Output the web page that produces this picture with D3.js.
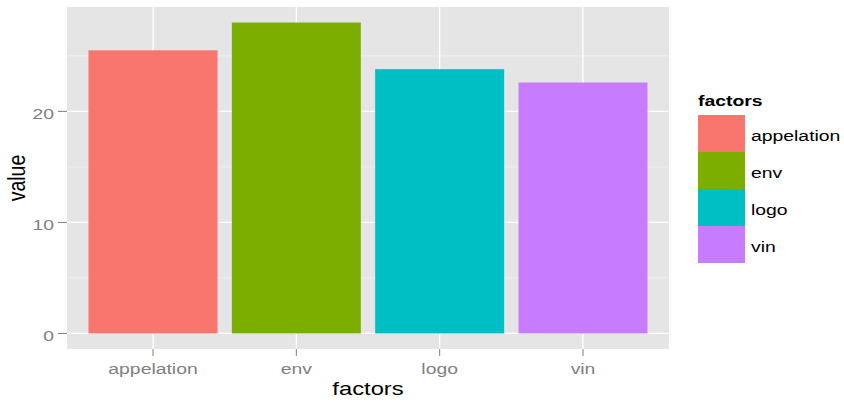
<!DOCTYPE html>
<html>
<head>
<meta charset="utf-8">
<script src="https://cdn.jsdelivr.net/npm/d3@7"></script>
<style>
  html, body { margin: 0; padding: 0; background: #fff; }
  svg { display: block; font-family: "Liberation Sans", Arial, sans-serif; }
</style>
</head>
<body>
<svg id="chart" width="844" height="408"></svg>
<script>
// ---- data ----
const categories = ["appelation", "env", "logo", "vin"];
const values = [25.5, 28.0, 23.8, 22.6];
const colors = ["#F8766D", "#7CAE00", "#00BFC4", "#C77CFF"];
const yTicks = [0, 10, 20];
const yMinor = [5, 15, 25];
const xTitle = "factors";
const yTitle = "value";
const legendTitle = "factors";

// ---- layout ----
const svg = d3.select("#chart");
const panel = { left: 67, right: 669, top: 7, bottom: 349 };
const SX = 1.25; // horizontal text stretch seen in reference

const ymax = d3.max(values);
const y = d3.scaleLinear()
  .domain([-0.05 * ymax, ymax * 1.05])
  .range([panel.bottom, panel.top]);
const x = d3.scaleLinear()
  .domain([0.4, categories.length + 0.6])
  .range([panel.left, panel.right]);

// panel background
svg.append("rect")
  .attr("x", panel.left).attr("y", panel.top)
  .attr("width", panel.right - panel.left).attr("height", panel.bottom - panel.top)
  .attr("fill", "#e5e5e5");

// minor grid
svg.append("g").selectAll("line").data(yMinor).join("line")
  .attr("x1", panel.left).attr("x2", panel.right)
  .attr("y1", d => y(d)).attr("y2", d => y(d))
  .attr("stroke", "#f2f2f2").attr("stroke-width", 0.8);

// major grid
svg.append("g").selectAll("line").data(yTicks).join("line")
  .attr("x1", panel.left).attr("x2", panel.right)
  .attr("y1", d => y(d)).attr("y2", d => y(d))
  .attr("stroke", "#ffffff").attr("stroke-width", 1.3);
svg.append("g").selectAll("line").data(categories).join("line")
  .attr("x1", (d, i) => x(i + 1)).attr("x2", (d, i) => x(i + 1))
  .attr("y1", panel.top).attr("y2", panel.bottom)
  .attr("stroke", "#ffffff").attr("stroke-width", 1.3);

// bars
const bw = 0.9;
svg.append("g").selectAll("rect").data(values).join("rect")
  .attr("x", (d, i) => x(i + 1 - bw / 2))
  .attr("width", (d, i) => x(i + 1 + bw / 2) - x(i + 1 - bw / 2))
  .attr("y", d => y(d))
  .attr("height", d => y(0) - y(d))
  .attr("fill", (d, i) => colors[i]);

// helper for stretched text
function stext(g, str, px, py, opts) {
  const t = g.append("text")
    .attr("transform", `translate(${px},${py}) scale(${SX},1)` + (opts.rotate ? ` rotate(${opts.rotate})` : ""))
    .attr("x", 0).attr("y", 0)
    .attr("text-anchor", opts.anchor || "start")
    .attr("font-size", opts.size + "px")
    .attr("fill", opts.fill || "#000")
    .text(str);
  if (opts.bold) t.attr("font-weight", "bold");
  if (opts.dy) t.attr("dy", opts.dy);
  return t;
}

// y axis ticks + labels
const yAx = svg.append("g");
yTicks.forEach(v => {
  yAx.append("line")
    .attr("x1", panel.left - 9).attr("x2", panel.left)
    .attr("y1", y(v)).attr("y2", y(v))
    .attr("stroke", "#7f7f7f").attr("stroke-width", 1);
  stext(yAx, String(v), panel.left - 13, y(v), { anchor: "end", size: 15.5, fill: "#7f7f7f", dy: "0.48em" });
});

// x axis ticks + labels
const xAx = svg.append("g");
categories.forEach((c, i) => {
  xAx.append("line")
    .attr("x1", x(i + 1)).attr("x2", x(i + 1))
    .attr("y1", panel.bottom).attr("y2", panel.bottom + 7)
    .attr("stroke", "#7f7f7f").attr("stroke-width", 1);
  stext(xAx, c, x(i + 1), 374, { anchor: "middle", size: 15.5, fill: "#7f7f7f" });
});

// axis titles
stext(svg, xTitle, (panel.left + panel.right) / 2, 395, { anchor: "middle", size: 19 });
stext(svg, yTitle, 25, (panel.top + panel.bottom) / 2, { anchor: "middle", size: 19.5, rotate: -90 });

// legend
const lg = svg.append("g");
stext(lg, legendTitle, 698, 106, { size: 15.5, bold: true });
const keyH = 37, keyW = 47, keyTop = 115;
categories.forEach((c, i) => {
  lg.append("rect")
    .attr("x", 698).attr("y", keyTop + i * keyH)
    .attr("width", keyW).attr("height", keyH)
    .attr("fill", colors[i]);
  stext(lg, c, 751, keyTop + i * keyH + keyH / 2, { size: 15.5, dy: "0.5em" });
});
</script>
</body>
</html>
